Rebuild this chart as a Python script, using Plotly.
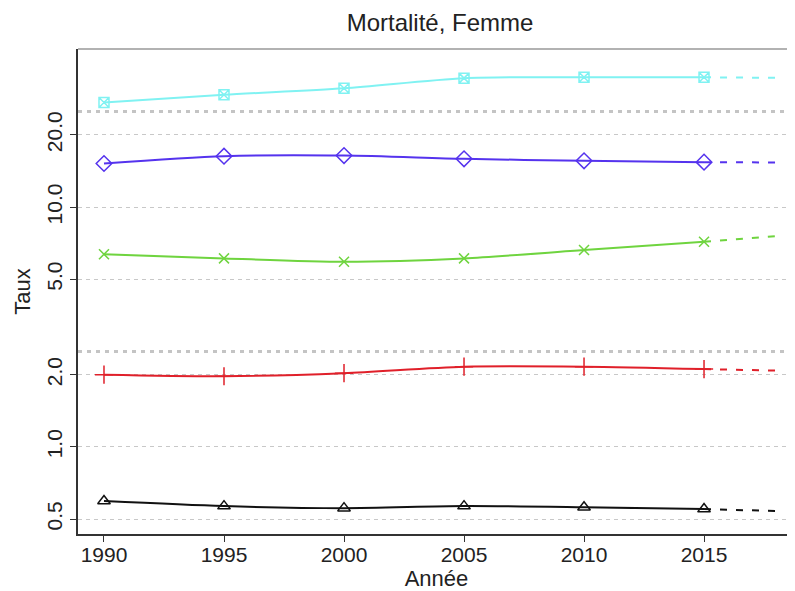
import plotly.graph_objects as go

years = [1990, 1995, 2000, 2005, 2010, 2015]
proj_years = [2015, 2018]

s_black = [0.594, 0.566, 0.555, 0.566, 0.56, 0.55]
p_black = [0.55, 0.54]
s_red = [2.0, 1.97, 2.03, 2.16, 2.16, 2.11]
p_red = [2.11, 2.08]
s_green = [6.36, 6.11, 5.92, 6.11, 6.62, 7.17]
p_green = [7.17, 7.57]
s_blue = [15.2, 16.3, 16.4, 15.9, 15.6, 15.4]
p_blue = [15.4, 15.35]
s_cyan = [27.3, 29.4, 31.3, 34.5, 34.8, 34.8]
p_cyan = [34.8, 34.6]

y_tickvals = [0.5, 1, 2, 5, 10, 20]
y_ticktext = ["0.5", "1.0", "2.0", "5.0", "10.0", "20.0"]
y_minor = [2.5, 25]
x_ticks = [1990, 1995, 2000, 2005, 2010, 2015]

series = [
    (s_black, p_black, "#111111", "triangle-up-open", 11),
    (s_red, p_red, "#E0202A", "cross-thin-open", 13),
    (s_green, p_green, "#6FD43F", "x-thin-open", 10),
    (s_blue, p_blue, "#5533EE", "diamond-open", 12),
    (s_cyan, p_cyan, "#80F2F2", "square-x-open", 10),
]

fig = go.Figure()
for vals, proj, col, sym, sz in series:
    fig.add_trace(go.Scatter(
        x=years, y=vals, mode="lines+markers",
        line=dict(color=col, width=2, shape="spline", smoothing=0.8),
        marker=dict(symbol=sym, size=sz, color=col, line=dict(color=col, width=1.5)),
        showlegend=False, hoverinfo="skip"))
    fig.add_trace(go.Scatter(
        x=proj_years, y=proj, mode="lines",
        line=dict(color=col, width=2, dash="7px,9px"),
        showlegend=False, hoverinfo="skip"))

# page has an 8px body margin, so the figure is sized/offset to compensate
W, H = 787, 583
font = "Liberation Sans, Arial, sans-serif"
fig.update_layout(
    width=W, height=H,
    margin=dict(l=70, r=0, t=41, b=57, autoexpand=False),
    paper_bgcolor="white", plot_bgcolor="white",
    font=dict(family=font, size=21, color="#222222"),
    title=dict(text="Mortalité, Femme", x=432 / W, xanchor="center",
               y=1 - 15 / H, yanchor="middle", automargin=False,
               font=dict(size=24, color="#222222")),
    xaxis=dict(
        range=[1988.917, 2018.79], tickvals=x_ticks, automargin=False,
        ticks="outside", ticklen=6, tickcolor="#333333",
        showline=True, linecolor="#333333", linewidth=1.5,
        showgrid=False, zeroline=False, ticklabelstandoff=-5,
        title=dict(text="Année", standoff=0, font=dict(size=22)),
        tickfont=dict(size=21),
    ),
    yaxis=dict(
        type="log", range=[-0.3635, 1.6594], automargin=False,
        tickvals=y_tickvals, ticktext=y_ticktext, tickangle=-90,
        ticks="outside", ticklen=6, tickcolor="#333333",
        showline=True, linecolor="#333333", linewidth=1.5,
        showgrid=True, gridcolor="#c8c8c8", gridwidth=1.2, griddash="4px,4px",
        zeroline=False,
        minor=dict(tickvals=y_minor, showgrid=True, gridcolor="#c4c4c4",
                   gridwidth=2.5, griddash="4px,5px", ticks=""),
        title=dict(text="Taux", standoff=6, font=dict(size=22)),
        tickfont=dict(size=21),
    ),
    shapes=[dict(type="line", xref="paper", yref="paper", x0=0, x1=1, y0=1, y1=1,
                 line=dict(color="#999999", width=1.5))],
)

fig.write_html("out.html")
